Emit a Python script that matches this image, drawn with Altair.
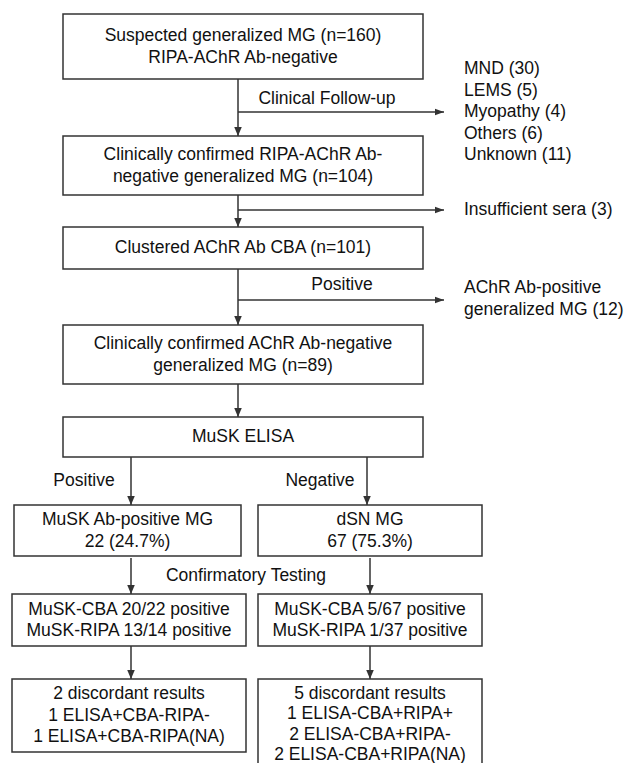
import altair as alt
import pandas as pd

# ---- boxes (flowchart nodes) ----
box_x0 = [63, 63, 63, 63, 63, 14, 258, 12, 258, 12, 258]
box_x1 = [423, 423, 423, 423, 423, 241, 482, 246, 482, 246, 482]
box_y0 = [14, 136, 227, 325, 417, 505, 505, 594, 594, 679, 679]
box_y1 = [79, 195, 269, 384, 457, 556, 556, 646, 646, 752, 800]

# ---- centred text lines ----
ctext = [
    "Suspected generalized MG (n=160)", "RIPA-AChR Ab-negative",
    "Clinically confirmed RIPA-AChR Ab-", "negative generalized MG (n=104)",
    "Clustered AChR Ab CBA (n=101)",
    "Clinically confirmed AChR Ab-negative", "generalized MG (n=89)",
    "MuSK ELISA",
    "MuSK Ab-positive MG", "22 (24.7%)",
    "dSN MG", "67 (75.3%)",
    "MuSK-CBA 20/22 positive", "MuSK-RIPA 13/14 positive",
    "MuSK-CBA 5/67 positive", "MuSK-RIPA 1/37 positive",
    "2 discordant results", "1 ELISA+CBA-RIPA-", "1 ELISA+CBA-RIPA(NA)",
    "5 discordant results", "1 ELISA-CBA+RIPA+", "2 ELISA-CBA+RIPA-", "2 ELISA-CBA+RIPA(NA)",
    "Clinical Follow-up", "Positive", "Positive", "Negative", "Confirmatory Testing",
]
ctext_x = [243, 243, 243, 243, 243, 243, 243, 243,
           127.5, 127.5, 370, 370,
           129, 129, 370, 370,
           129, 129, 129, 370, 370, 370, 370,
           327, 342, 84, 320, 246]
ctext_y = [36, 58, 155, 176.5, 248, 344, 365.5, 437,
           520, 541.5, 520, 541.5,
           609.5, 631, 609.5, 631,
           694, 715.5, 737, 693.5, 714, 734.5, 754.5,
           98.5, 285, 481, 481, 576]

# ---- left-aligned side text ----
ltext = ["MND (30)", "LEMS (5)", "Myopathy (4)", "Others (6)", "Unknown (11)",
         "Insufficient sera (3)", "AChR Ab-positive", "generalized MG (12)"]
ltext_x = [464, 464, 464, 464, 464, 464, 464, 464]
ltext_y = [69, 90.5, 112, 133.5, 155, 210, 288, 309.5]

# ---- vertical arrows (downward) ----
varrow_x = [238, 238, 238, 238, 131, 367, 131, 370, 131, 370]
varrow_y0 = [79, 195, 269, 384, 457, 457, 558, 558, 646, 646]
varrow_y1 = [136, 227, 325, 417, 505, 505, 594, 594, 679, 679]

# ---- horizontal branch arrows (to the right) ----
harrow_y = [112, 210, 300]
harrow_x0 = [238, 238, 238]
harrow_x1 = [444, 444, 444]

LINE = "#333333"
FONT = "Liberation Sans"
FS = 17.5

xs = alt.Scale(domain=[8, 633], nice=False, zero=False)
ys = alt.Scale(domain=[8, 763], nice=False, zero=False, reverse=True)

boxes = pd.DataFrame({"x0": box_x0, "x1": box_x1, "y0": box_y0, "y1": box_y1})
ct = pd.DataFrame({"t": ctext, "x": ctext_x, "y": ctext_y})
lt = pd.DataFrame({"t": ltext, "x": ltext_x, "y": ltext_y})
va = pd.DataFrame({"x": varrow_x, "y0": varrow_y0, "y1": varrow_y1})
ha = pd.DataFrame({"y": harrow_y, "x0": harrow_x0, "x1": harrow_x1})

X = lambda f: alt.X(f, type="quantitative", scale=xs, axis=None)
Y = lambda f: alt.Y(f, type="quantitative", scale=ys, axis=None)

rects = alt.Chart(boxes).mark_rect(fill="white", stroke=LINE, strokeWidth=1.5).encode(
    x=X("x0"), x2="x1", y=Y("y0"), y2="y1")

vrules = alt.Chart(va).mark_rule(color=LINE, strokeWidth=1.5).encode(
    x=X("x"), y=Y("y0"), y2="y1")
vheads = alt.Chart(va).mark_point(
    shape="M-0.42,-1L0.42,-1L0,0Z", size=324, filled=True, color=LINE, opacity=1
).encode(x=X("x"), y=Y("y1"))

hrules = alt.Chart(ha).mark_rule(color=LINE, strokeWidth=1.5).encode(
    y=Y("y"), x=X("x0"), x2="x1")
hheads = alt.Chart(ha).mark_point(
    shape="M-1,-0.36L-1,0.36L0,0Z", size=324, filled=True, color=LINE, opacity=1
).encode(x=X("x1"), y=Y("y"))

ctx = alt.Chart(ct).mark_text(font=FONT, fontSize=FS, align="center", baseline="middle",
                              color="#111111").encode(x=X("x"), y=Y("y"), text="t")
ltx = alt.Chart(lt).mark_text(font=FONT, fontSize=FS, align="left", baseline="middle",
                              color="#111111").encode(x=X("x"), y=Y("y"), text="t")

chart = alt.layer(rects, vrules, hrules, vheads, hheads, ctx, ltx).properties(
    width=625, height=755, padding=0, autosize="none", background="white"
).configure_view(strokeWidth=0)

chart.save("out.html", embed_options={"renderer": "svg", "actions": False})
